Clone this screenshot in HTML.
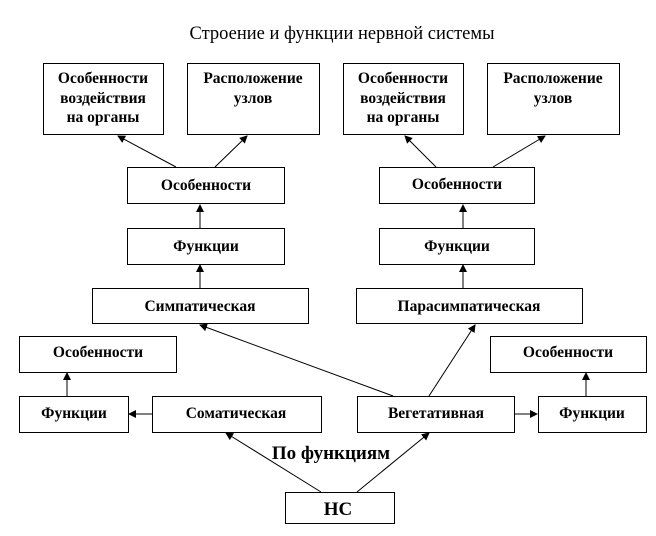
<!DOCTYPE html>
<html><head><meta charset="utf-8"><style>
body{margin:0;background:#fff;}
svg{display:block;}
text{font-family:"Liberation Serif",serif;fill:#000;}
.b{font-weight:bold;font-size:15.5px;}
rect{fill:#fff;stroke:#000;stroke-width:1;}
line{stroke:#000;stroke-width:1;}
</style></head><body>
<svg width="656" height="536" viewBox="0 0 656 536">
<defs><marker id="a" markerWidth="8" markerHeight="8" refX="7" refY="4" orient="auto" markerUnits="userSpaceOnUse"><path d="M0,0 L8,4 L0,8 z" fill="#000"/></marker></defs>
<text x="342" y="39" font-size="18.5" text-anchor="middle">Строение и функции нервной системы</text>

<rect x="43.5" y="63.5" width="120" height="71"/>
<text class="b" x="103" y="83" text-anchor="middle">Особенности</text>
<text class="b" x="103" y="103" text-anchor="middle">воздействия</text>
<text class="b" x="103" y="122" text-anchor="middle">на органы</text>
<rect x="187.5" y="63.5" width="132" height="71"/>
<text class="b" x="253" y="83" text-anchor="middle">Расположение</text>
<text class="b" x="253" y="103" text-anchor="middle">узлов</text>
<rect x="127.5" y="167.5" width="157" height="36"/>
<text class="b" x="206" y="190" text-anchor="middle">Особенности</text>
<rect x="127.5" y="228.5" width="157" height="36"/>
<text class="b" x="206" y="251" text-anchor="middle">Функции</text>
<rect x="92.5" y="288.5" width="216" height="35"/>
<text class="b" x="200" y="311" text-anchor="middle">Симпатическая</text>

<rect x="343.5" y="63.5" width="120" height="71"/>
<text class="b" x="403" y="83" text-anchor="middle">Особенности</text>
<text class="b" x="403" y="103" text-anchor="middle">воздействия</text>
<text class="b" x="403" y="122" text-anchor="middle">на органы</text>
<rect x="487.5" y="63.5" width="132" height="71"/>
<text class="b" x="553" y="83" text-anchor="middle">Расположение</text>
<text class="b" x="553" y="103" text-anchor="middle">узлов</text>
<rect x="379.5" y="167.5" width="155" height="36"/>
<text class="b" x="457" y="189" text-anchor="middle">Особенности</text>
<rect x="379.5" y="228.5" width="155" height="36"/>
<text class="b" x="457" y="251" text-anchor="middle">Функции</text>
<rect x="356.5" y="288.5" width="226" height="35"/>
<text class="b" x="469" y="311" text-anchor="middle">Парасимпатическая</text>

<rect x="19.5" y="336.5" width="157" height="36"/>
<text class="b" x="98" y="357" text-anchor="middle">Особенности</text>
<rect x="19.5" y="396.5" width="109" height="36"/>
<text class="b" x="74" y="418" text-anchor="middle">Функции</text>
<rect x="152.5" y="396.5" width="169" height="36"/>
<text class="b" x="236" y="418" text-anchor="middle">Соматическая</text>
<rect x="357.5" y="396.5" width="157" height="36"/>
<text class="b" x="436" y="418" text-anchor="middle">Вегетативная</text>
<rect x="538.5" y="396.5" width="108" height="36"/>
<text class="b" x="592" y="418" text-anchor="middle">Функции</text>
<rect x="490.5" y="336.5" width="156" height="36"/>
<text class="b" x="568" y="357" text-anchor="middle">Особенности</text>
<rect x="285.5" y="492.5" width="109" height="31"/>
<text x="338" y="515" text-anchor="middle" font-size="19" font-weight="bold">НС</text>
<text x="331" y="459" text-anchor="middle" font-size="19" font-weight="bold">По функциям</text>

<g marker-end="url(#a)">
<line x1="176" y1="167" x2="118" y2="136"/>
<line x1="215" y1="167" x2="247" y2="136"/>
<line x1="200" y1="228" x2="200" y2="205"/>
<line x1="200" y1="288" x2="200" y2="265"/>
<line x1="436" y1="167" x2="405" y2="136"/>
<line x1="493" y1="167" x2="545" y2="136"/>
<line x1="463" y1="228" x2="463" y2="205"/>
<line x1="463" y1="288" x2="463" y2="265"/>
<line x1="393" y1="396" x2="200" y2="325"/>
<line x1="429" y1="396" x2="475" y2="325"/>
<line x1="67" y1="396" x2="67" y2="373"/>
<line x1="586" y1="396" x2="586" y2="373"/>
<line x1="152" y1="414" x2="129" y2="414"/>
<line x1="514" y1="414" x2="537" y2="414"/>
<line x1="321" y1="492" x2="226" y2="433"/>
<line x1="357" y1="492" x2="429" y2="433"/>
</g>
</svg>
</body></html>
